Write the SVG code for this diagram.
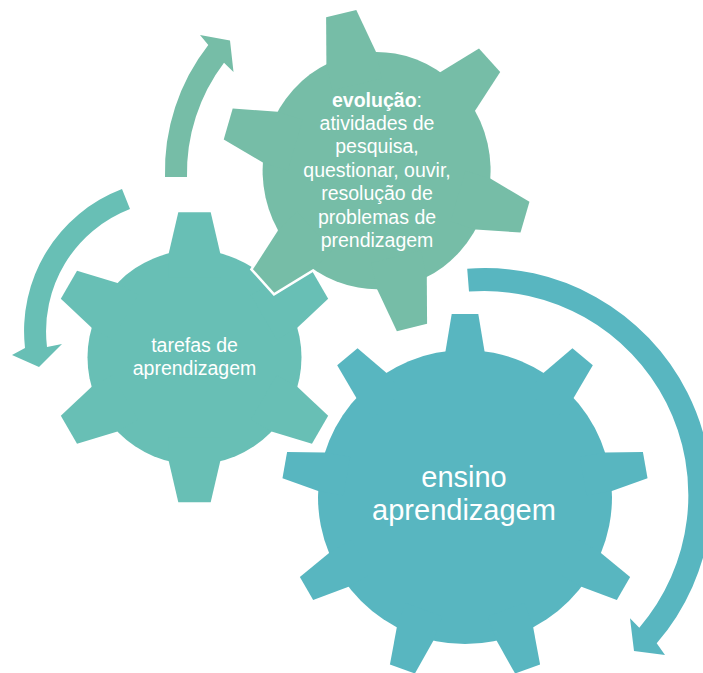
<svg xmlns="http://www.w3.org/2000/svg" xmlns:xlink="http://www.w3.org/1999/xlink" width="703" height="673" viewBox="0 0 703 673">
  <style>
    .halo { fill: #ffffff; stroke: #ffffff; stroke-width: 5; stroke-linejoin: miter; }
    .g-top { fill: #76BDA7; }
    .g-left { fill: #68BFB5; }
    .g-big { fill: #58B6C0; }
    .lbl { font-family: "Liberation Sans", Arial, sans-serif; fill: #ffffff; text-anchor: middle; }
    .sm { font-size: 19.5px; }
    .lg { font-size: 29px; }
    .b { font-weight: bold; }
  </style>
  <defs>
    <!-- six-tooth gear, tooth pointing up, centred on the origin -->
    <path id="tooth6" d="M-16.2,-145 L16.2,-145 L25.8,-103.8 L25.8,-80 L-25.8,-80 L-25.8,-103.8 Z"/>
    <g id="gear6">
      <circle r="107"/>
      <use xlink:href="#tooth6"/>
      <use xlink:href="#tooth6" transform="rotate(60)"/>
      <use xlink:href="#tooth6" transform="rotate(120)"/>
      <use xlink:href="#tooth6" transform="rotate(180)"/>
      <use xlink:href="#tooth6" transform="rotate(240)"/>
      <use xlink:href="#tooth6" transform="rotate(300)"/>
    </g>
    <!-- slightly larger six-tooth gear -->
    <path id="tooth6L" d="M-15.5,-155 L15.5,-155 L25.5,-111.1 L25.5,-85 L-25.5,-85 L-25.5,-111.1 Z"/>
    <g id="gear6L">
      <circle r="114"/>
      <use xlink:href="#tooth6L"/>
      <use xlink:href="#tooth6L" transform="rotate(60)"/>
      <use xlink:href="#tooth6L" transform="rotate(120)"/>
      <use xlink:href="#tooth6L" transform="rotate(180)"/>
      <use xlink:href="#tooth6L" transform="rotate(240)"/>
      <use xlink:href="#tooth6L" transform="rotate(300)"/>
    </g>
    <!-- nine-tooth gear -->
    <path id="tooth9" d="M-13.3,-183 L13.3,-183 L19.5,-145.7 L19.5,-120 L-19.5,-120 L-19.5,-145.7 Z"/>
    <g id="gear9">
      <circle r="147"/>
      <use xlink:href="#tooth9"/>
      <use xlink:href="#tooth9" transform="rotate(40)"/>
      <use xlink:href="#tooth9" transform="rotate(80)"/>
      <use xlink:href="#tooth9" transform="rotate(120)"/>
      <use xlink:href="#tooth9" transform="rotate(160)"/>
      <use xlink:href="#tooth9" transform="rotate(200)"/>
      <use xlink:href="#tooth9" transform="rotate(240)"/>
      <use xlink:href="#tooth9" transform="rotate(280)"/>
      <use xlink:href="#tooth9" transform="rotate(320)"/>
    </g>
  </defs>

  <!-- big gear -->
  <g id="gear-ensino">
    <g transform="translate(465,497)">
      <use xlink:href="#gear9" class="g-big"/>
    </g>
    <text class="lbl lg" x="464" y="486.7">ensino</text>
    <text class="lbl lg" x="464" y="520">aprendizagem</text>
  </g>

  <!-- left gear -->
  <g id="gear-tarefas">
    <g transform="translate(194.5,357.3)">
      <use xlink:href="#gear6" class="halo"/>
      <use xlink:href="#gear6" class="g-left"/>
    </g>
    <text class="lbl sm" x="194.5" y="351.7">tarefas de</text>
    <text class="lbl sm" x="194.5" y="375.2">aprendizagem</text>
  </g>

  <!-- top gear -->
  <g id="gear-evolucao">
    <g transform="translate(376.6,170.6) scale(1,1.04) rotate(-13.2)">
      <use xlink:href="#gear6L" class="halo"/>
      <use xlink:href="#gear6L" class="g-top"/>
    </g>
    <text class="lbl sm" x="377" y="106.5"><tspan class="b">evolução</tspan>:</text>
    <text class="lbl sm" x="377" y="129.9">atividades de</text>
    <text class="lbl sm" x="377" y="153.3">pesquisa,</text>
    <text class="lbl sm" x="377" y="176.7">questionar, ouvir,</text>
    <text class="lbl sm" x="377" y="200.1">resolução de</text>
    <text class="lbl sm" x="377" y="223.5">problemas de</text>
    <text class="lbl sm" x="377" y="246.9">prendizagem</text>
  </g>

  <!-- circular arrows -->
  <g id="connectors">
    <path class="g-top" d="M165,177 A205,205 0 0 1 208.3,45 L200,35 L230,40.5 L233.5,72 L224,62.7 A183,183 0 0 0 187,177 Z"/>
    <path class="g-left" d="M122,189 A152,152 0 0 0 25,348 L12,355 L39,367 L62,344 L47,347 A131,131 0 0 1 130,209 Z"/>
    <path class="g-big" d="M467.2,268.7 A227,227 0 0 1 656.7,643.3 L665,655 L634,651 L630,618.3 L639.3,627.7 A204,204 0 0 0 469,291.6 Z"/>
  </g>
</svg>
